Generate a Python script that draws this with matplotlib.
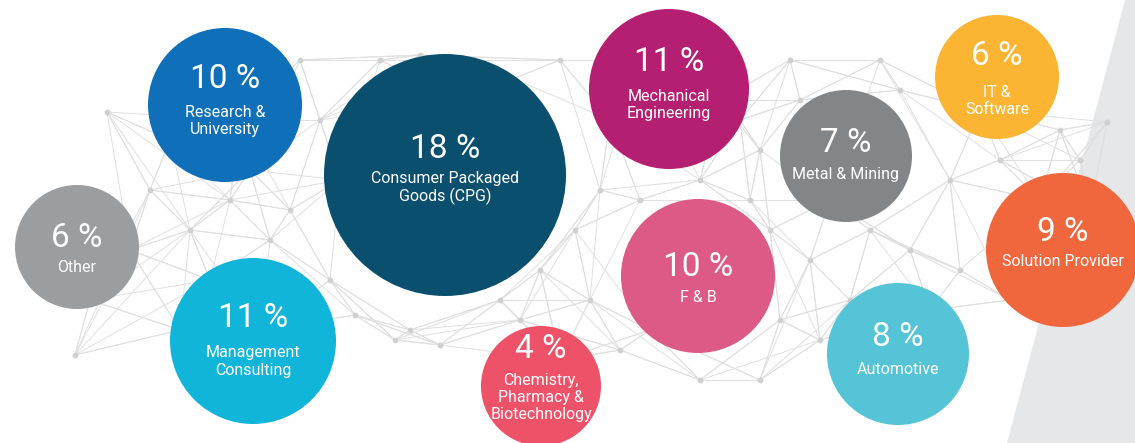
import numpy as np
import matplotlib.pyplot as plt
from matplotlib.patches import Circle, Polygon

# bubble data
shares = [6, 10, 11, 18, 11, 10, 4, 7, 6, 9, 8]
labels = ["Other", "Research &\nUniversity", "Management\nConsulting",
          "Consumer Packaged\nGoods (CPG)", "Mechanical\nEngineering", "F & B",
          "Chemistry,\nPharmacy &\nBiotechnology", "Metal & Mining",
          "IT &\nSoftware", "Solution Provider", "Automotive"]
colors = ["#9b9ea1", "#0f6fb8", "#12b5da", "#0b4f6f", "#b51f71", "#dc5a85",
          "#ee5268", "#828689", "#fbb532", "#f0673d", "#55c4d6"]

# layout (pixels)
bx = [77, 225, 253, 445, 669, 698, 541, 846, 997, 1063, 898]
by = [247, 105, 341, 175, 89, 276, 386, 156, 77, 250, 354]
br = [62, 77, 83, 121, 80, 77, 60, 66, 62, 77, 71]
pct_dy = [-9, -26, -23, -26, -27, -9, -37, -13, -21, -18, -17]
lab_dy = [21, 16, 20.5, 13, 16, 22, 11.5, 19, 24, 12, 16]

# background network nodes
nodes = np.array([
    (75, 355), (107, 112), (90, 300), (130, 250), (150, 190), (170, 140), (190, 230), (210, 280),
    (230, 200), (250, 170), (270, 240), (290, 210), (300, 60), (320, 120), (330, 280), (355, 315),
    (380, 60), (395, 340), (410, 330), (440, 345), (420, 55), (470, 60), (500, 300), (520, 320),
    (540, 270), (560, 60), (575, 230), (590, 300), (600, 190), (610, 120), (620, 350), (640, 200),
    (650, 330), (700, 180), (720, 100), (740, 120), (750, 200), (760, 150), (770, 230), (780, 320),
    (790, 60), (800, 100), (810, 260), (830, 200), (850, 300), (870, 230), (880, 60), (900, 90),
    (910, 250), (930, 310), (950, 180), (960, 270), (980, 110), (1000, 160), (1010, 300), (1040, 200),
    (1060, 130), (1080, 160), (1107, 122), (1090, 210), (640, 60), (340, 180), (560, 360), (460, 100),
    (700, 380), (760, 380), (820, 340), (240, 120), (180, 330), (260, 330)])

W, H = 1135, 443
fig = plt.figure(figsize=(W / 100, H / 100), dpi=100)
ax = fig.add_axes([0, 0, 1, 1])
ax.set_xlim(0, W)
ax.set_ylim(H, 0)
ax.axis("off")

ax.add_patch(Polygon([(1125, 0), (W, 0), (W, H), (1007, H)], closed=True,
                     facecolor="#e6e7e9", edgecolor="none", zorder=0))

# connect each node to its nearest neighbours
for i, p in enumerate(nodes):
    d = np.hypot(*(nodes - p).T)
    for j in np.argsort(d)[1:7]:
        ax.plot([p[0], nodes[j][0]], [p[1], nodes[j][1]], color="#e0e0e0", lw=0.7, zorder=1)
ax.scatter(nodes[:, 0], nodes[:, 1], s=10, color="#d0d0d0", zorder=1.5)

for i in range(len(shares)):
    ax.add_patch(Circle((bx[i], by[i]), br[i], facecolor=colors[i], edgecolor="none", zorder=2))
    ax.text(bx[i], by[i] + pct_dy[i], f"{shares[i]} %", ha="center", va="center",
            color="white", fontsize=24, family="Roboto", zorder=3)
    ax.text(bx[i], by[i] + lab_dy[i], labels[i], ha="center", va="center",
            color="white", fontsize=11.5, family="Roboto", linespacing=1.2, zorder=3)

fig.savefig("out.png", dpi=100)
